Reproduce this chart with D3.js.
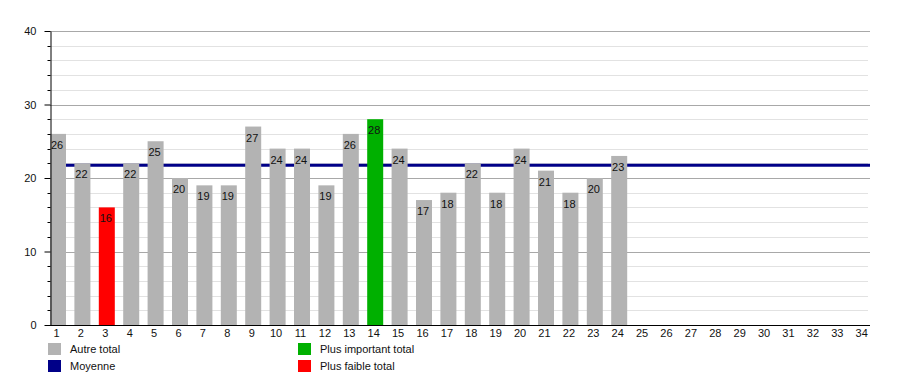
<!DOCTYPE html>
<html>
<head>
<meta charset="utf-8">
<script src="https://cdn.jsdelivr.net/npm/d3@7"></script>
<style>
body { margin: 0; background: #fff; }
text { font-family: "Liberation Sans", Arial, sans-serif; font-size: 11px; fill: #111; }
</style>
</head>
<body>
<svg id="chart" width="900" height="375"></svg>
<script>
// chart data
var categories = d3.range(1, 35);
var totals = [26, 22, 16, 22, 25, 20, 19, 19, 27, 24, 24, 19, 26, 28, 24, 17, 18, 22, 18, 24, 21, 18, 20, 23];
var yTicks = [0, 10, 20, 30, 40];
var legendItems = ["Autre total", "Moyenne", "Plus important total", "Plus faible total"];

var colGray = "#b3b3b3", colGreen = "#00b000", colRed = "#ff0000", colNavy = "#000088";

var svg = d3.select("#chart");
var plotLeft = 50, plotTop = 31, plotBottom = 325, plotRight = 870;

var x = d3.scaleBand().domain(categories).range([plotLeft, 871.2]).paddingInner(0.344).paddingOuter(0);
var y = d3.scaleLinear().domain([0, 40]).range([plotBottom, plotTop]);

var maxV = d3.max(totals), minV = d3.min(totals);
var mean = d3.mean(totals);
var minorTicks = d3.range(2, 40, 2).filter(function(d) { return d % 10 != 0; });

// minor grid every 2
svg.append("g").selectAll("line").data(minorTicks)
  .enter().append("line")
  .attr("x1", plotLeft).attr("x2", plotRight - 2)
  .attr("y1", function(d) { return Math.round(y(d)) + 0.5; })
  .attr("y2", function(d) { return Math.round(y(d)) + 0.5; })
  .attr("stroke", "#e2e2e2").attr("stroke-width", 1);

// major grid
svg.append("g").selectAll("line").data(yTicks.slice(1))
  .enter().append("line")
  .attr("x1", plotLeft).attr("x2", plotRight)
  .attr("y1", function(d) { return Math.round(y(d)) + 0.5; })
  .attr("y2", function(d) { return Math.round(y(d)) + 0.5; })
  .attr("stroke", "#a8a8a8").attr("stroke-width", 1);

// mean line (behind bars)
svg.append("line")
  .attr("x1", plotLeft).attr("x2", plotRight)
  .attr("y1", y(mean)).attr("y2", y(mean))
  .attr("stroke", colNavy).attr("stroke-width", 3);

function barColor(v) {
  if (v == maxV) return colGreen;
  if (v == minV) return colRed;
  return colGray;
}

svg.append("g").selectAll("rect").data(totals)
  .enter().append("rect")
  .attr("x", function(d, i) { return x(categories[i]); })
  .attr("width", x.bandwidth())
  .attr("y", function(d) { return y(d); })
  .attr("height", function(d) { return plotBottom - y(d); })
  .attr("fill", barColor);

svg.append("g").selectAll("text").data(totals)
  .enter().append("text")
  .attr("x", function(d, i) { return x(categories[i]) + x.bandwidth() / 2 - 1; })
  .attr("y", function(d) { return y(d) + 15; })
  .attr("text-anchor", "middle")
  .text(function(d) { return d; });

// y axis
var yAxis = d3.axisLeft(y).tickValues(yTicks).tickSize(6).tickSizeOuter(0).tickPadding(8);
var gy = svg.append("g").attr("transform", "translate(" + (plotLeft + 0.5) + ",0)").call(yAxis);
gy.select(".domain").attr("stroke", "#000");
gy.selectAll(".tick line").attr("stroke", "#000");
gy.selectAll("text").style("font-size", "11px").style("font-family", "Liberation Sans, Arial, sans-serif").attr("fill", "#111");
gy.append("g").selectAll("line").data(minorTicks)
  .enter().append("line")
  .attr("x1", -3).attr("x2", 0)
  .attr("y1", function(d) { return Math.round(y(d)) + 0.5; })
  .attr("y2", function(d) { return Math.round(y(d)) + 0.5; })
  .attr("stroke", "#000");

// x axis
svg.append("line").attr("x1", plotLeft).attr("x2", plotRight)
  .attr("y1", plotBottom + 0.5).attr("y2", plotBottom + 0.5).attr("stroke", "#000");
svg.append("g").selectAll("text").data(categories)
  .enter().append("text")
  .attr("x", function(d) { return x(d) + x.bandwidth() / 2 - 1.5; })
  .attr("y", 337)
  .attr("text-anchor", "middle")
  .text(function(d) { return d; });

// legend
var legendColors = [colGray, colNavy, colGreen, colRed];
var lg = svg.append("g").selectAll("g").data(legendItems).enter().append("g")
  .attr("transform", function(d, i) { return "translate(" + (i < 2 ? 48 : 298) + "," + (343 + (i % 2) * 17) + ")"; });
lg.append("rect").attr("width", 13).attr("height", 12)
  .attr("fill", function(d, i) { return legendColors[i]; });
lg.append("text").attr("x", 22).attr("y", 10).text(function(d) { return d; });
</script>
</body>
</html>
